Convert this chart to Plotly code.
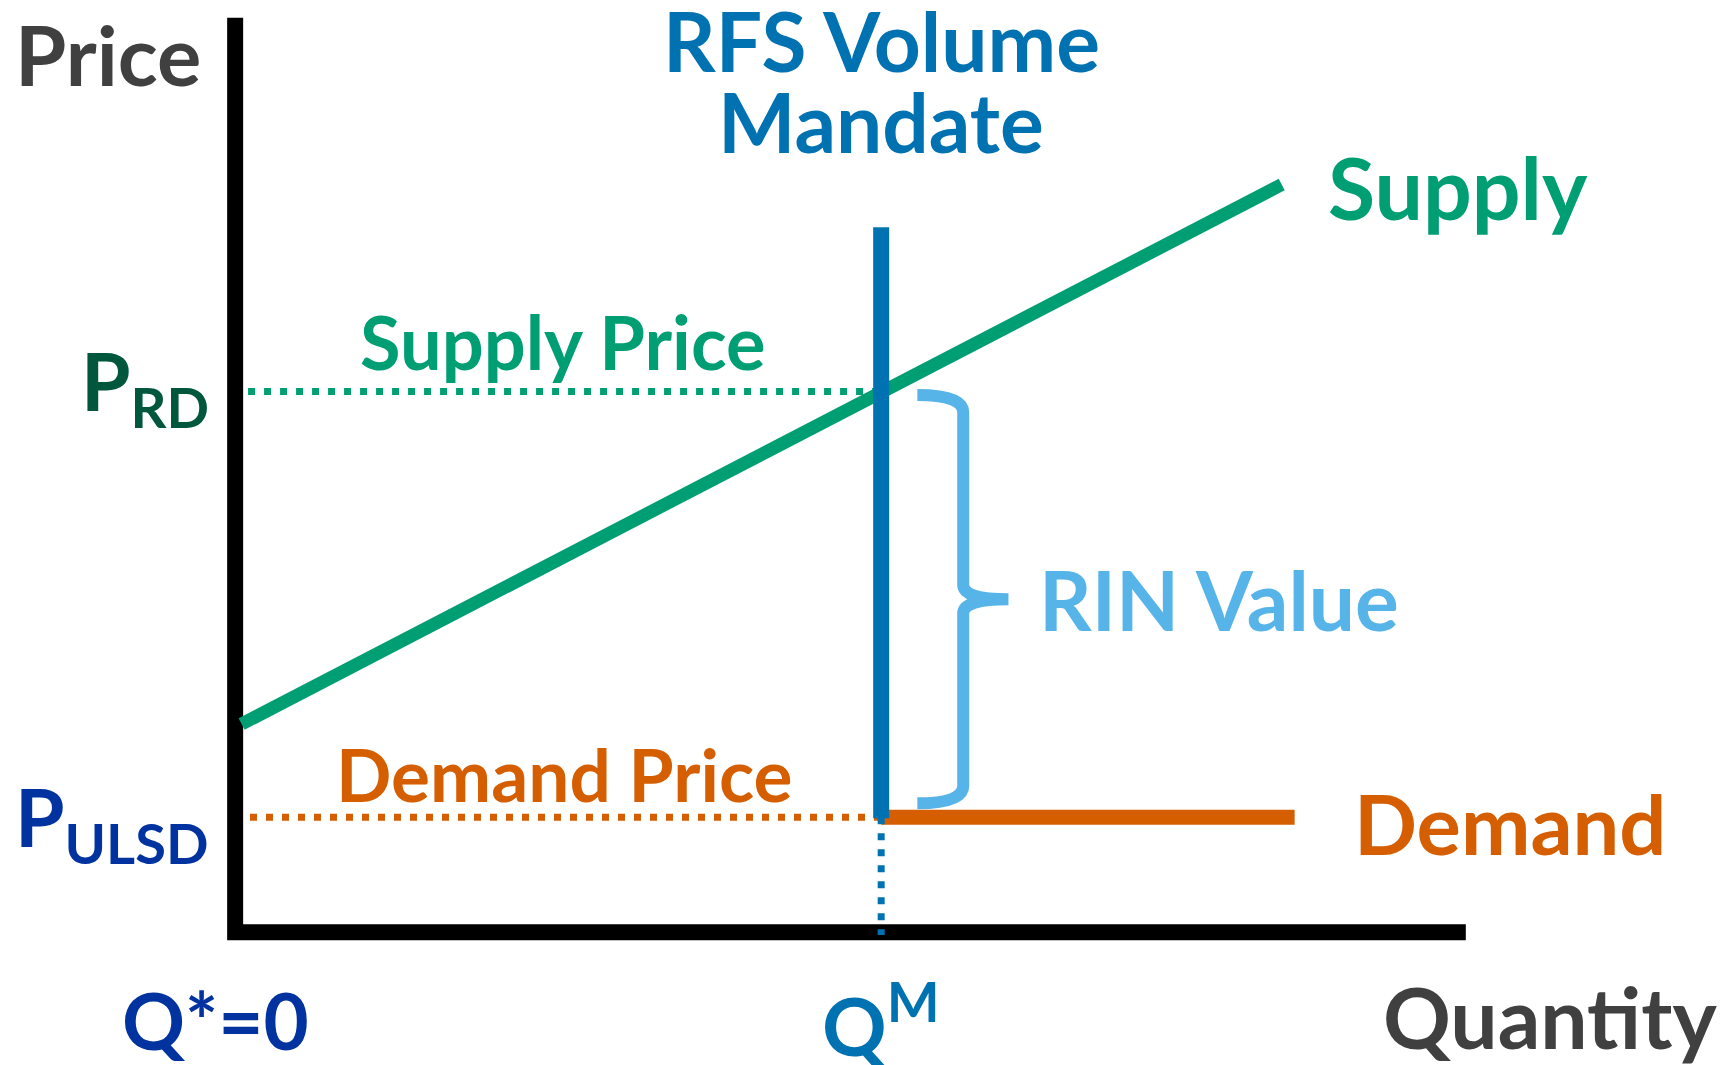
import plotly.graph_objects as go

# Schematic values (quantity / price units)
Q_M = 10.0            # RFS volume mandate
P_RD = 9.4            # renewable diesel supply price at Q_M
P_ULSD = 2.0          # ULSD (demand) price
supply_q = [0.1, 16.2]
supply_p = [3.62, 13.0]
demand_q = [Q_M, 16.4]
demand_p = [P_ULSD, P_ULSD]
mandate_top = 12.26
axis_q_max = 19.05
axis_p_max = 15.9

# Colors (Okabe-Ito style)
green = '#009E73'
orange = '#D55E00'
blue = '#0072B2'
sky = '#56B4E9'
dark_green = '#00573B'
navy = '#0033A0'
gray = '#404040'

FONT = 'Lato'

fig = go.Figure()

# axes (L shape)
fig.add_trace(go.Scatter(x=[0, 0, axis_q_max], y=[axis_p_max, 0, 0], mode='lines',
                         line=dict(color='black', width=16), hoverinfo='skip'))

# supply curve
fig.add_trace(go.Scatter(x=supply_q, y=supply_p, mode='lines',
                         line=dict(color=green, width=13), hoverinfo='skip'))

# dotted price guides
fig.add_trace(go.Scatter(x=[0.2, Q_M], y=[P_RD, P_RD], mode='lines',
                         line=dict(color=green, width=7, dash='7px,9px'), hoverinfo='skip'))
fig.add_trace(go.Scatter(x=[0.23, Q_M], y=[P_ULSD, P_ULSD], mode='lines',
                         line=dict(color=orange, width=7, dash='7px,9px'), hoverinfo='skip'))

# demand curve
fig.add_trace(go.Scatter(x=demand_q, y=demand_p, mode='lines',
                         line=dict(color=orange, width=15), hoverinfo='skip'))

# mandate line
fig.add_trace(go.Scatter(x=[Q_M, Q_M], y=[P_ULSD - 0.02, mandate_top], mode='lines',
                         line=dict(color=blue, width=16), hoverinfo='skip'))
fig.add_trace(go.Scatter(x=[Q_M, Q_M], y=[P_ULSD, -0.05], mode='lines',
                         line=dict(color=blue, width=7, dash='7px,9px'), hoverinfo='skip'))

# brace for RIN value
bx_l, bx_m, bx_t = Q_M + 0.56, Q_M + 1.27, Q_M + 1.97
b_top, b_bot = P_RD - 0.06, P_ULSD + 0.24
b_mid = (b_top + b_bot) / 2
path = (f"M {bx_l},{b_top} Q {bx_m},{b_top} {bx_m},{b_top - 0.3} "
        f"L {bx_m},{b_mid + 0.25} Q {bx_m},{b_mid} {bx_t},{b_mid} "
        f"M {bx_t},{b_mid} Q {bx_m},{b_mid} {bx_m},{b_mid - 0.25} "
        f"L {bx_m},{b_bot + 0.3} Q {bx_m},{b_bot} {bx_l},{b_bot}")
fig.add_shape(type='path', path=path, xref='x', yref='y',
              line=dict(color=sky, width=12))


def label(text, x, y, color, size, xanchor='center'):
    fig.add_annotation(x=x, y=y, text=text, showarrow=False, xanchor=xanchor, yanchor='middle',
                       font=dict(family=FONT, size=size, color=color, weight=700))


label('Price', -1.97, 15.27, gray, 83)
label('RFS Volume', Q_M, 15.51, blue, 82)
label('Mandate', Q_M, 14.1, blue, 82)
label('Supply', 18.93, 12.97, green, 86)
label('Supply Price', 5.06, 10.28, green, 74)
label('Demand Price', 5.09, 2.75, orange, 73)
label('RIN Value', 12.41, b_mid, sky, 82, xanchor='left')
label('Demand', 17.29, 1.9, orange, 83, xanchor='left')
label('P<sub>RD</sub>', -0.37, 9.5, dark_green, 80, xanchor='right')
label('P<sub>ULSD</sub>', -0.37, 1.92, navy, 80, xanchor='right')
label('Q*=0', -0.31, -1.52, navy, 78)
label('Q<sup>M</sup>', Q_M, -1.52, blue, 80)
label('Quantity', 20.36, -1.46, gray, 84)

fig.update_layout(
    width=1721, height=1065,
    margin=dict(l=0, r=0, t=0, b=0),
    paper_bgcolor='white', plot_bgcolor='white',
    showlegend=False,
    xaxis=dict(range=[-3.64, 23.0], visible=False, fixedrange=True),
    yaxis=dict(range=[-2.31, 16.21], visible=False, fixedrange=True),
)

fig.write_html('out.html', config=dict(displayModeBar=False),
               post_script="document.body.style.margin='0';")
